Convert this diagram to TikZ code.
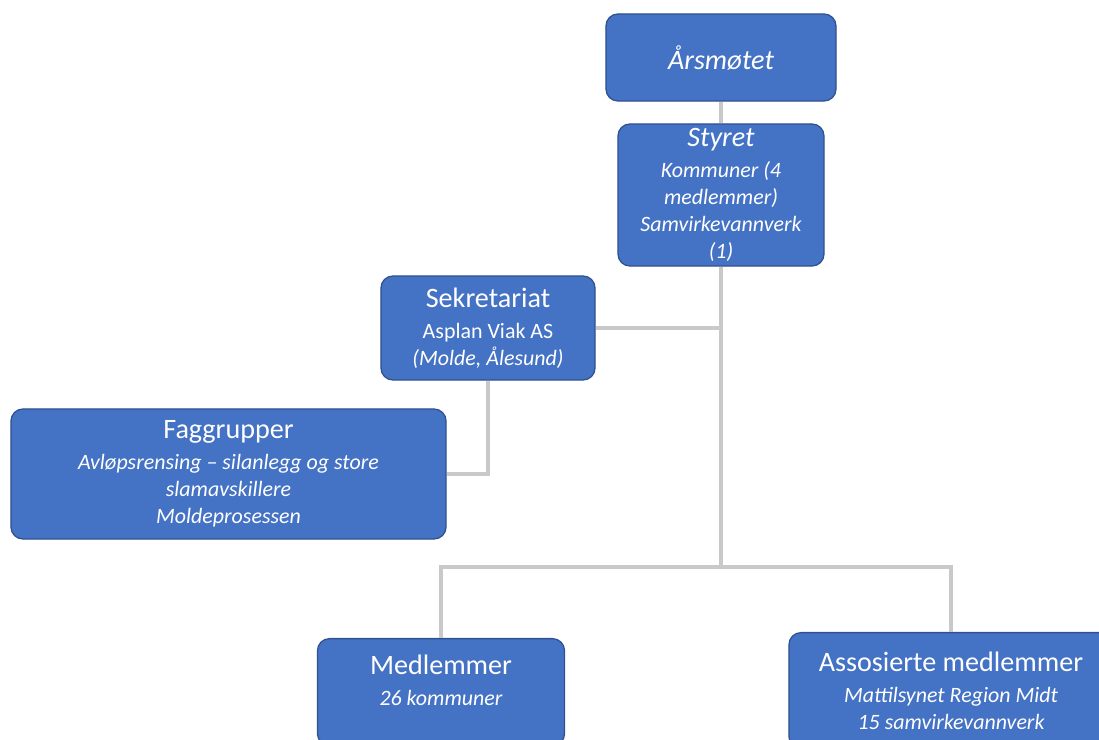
\documentclass[tikz,border=0pt]{standalone}
\usepackage{fontspec}
\setmainfont{Carlito}
\usepackage{tikz}

\definecolor{boxblue}{HTML}{4472C4}
\definecolor{boxedge}{HTML}{2F528F}
\definecolor{linkgray}{HTML}{C9C9C9}

\newcommand{\headline}[1]{{\fontsize{20}{24}\selectfont #1}}

\begin{document}
\begin{tikzpicture}[
            x = 0.025cm, % one unit = one pixel of the sketch
            y = -0.025cm,
            link/.style = {draw = linkgray, line width = 2.8pt}
        ]

        \tikzstyle{unit}=[
            draw = boxedge,
            line width = 0.9pt,
            fill = boxblue,
            text = white,
            rounded corners = 0.3cm,
            align = center,
            inner sep = 2pt,
            font = \fontsize{15.6}{19.2}\selectfont
        ]

        \clip (0,0) rectangle (1099,740);

        \node[unit, minimum width=5.75cm, minimum height=2.175cm] (ars) at (721,57.5)
            {\headline{\itshape Årsmøtet}};
        \node[unit, minimum width=5.15cm, minimum height=3.55cm] (styret) at (721,195)
            {\headline{\itshape Styret}\\[3pt] \itshape Kommuner (4\\ \itshape medlemmer)\\ \itshape Samvirkevannverk\\ \itshape (1)};
        \node[unit, minimum width=5.35cm, minimum height=2.6cm] (sekr) at (488,328)
            {\headline{Sekretariat}\\[3pt] Asplan Viak AS\\ \itshape (Molde, Ålesund)};
        \node[unit, minimum width=10.875cm, minimum height=3.25cm] (fag) at (228.5,474)
            {\headline{Faggrupper}\\[3pt] \itshape Avløpsrensing -- silanlegg og store\\ \itshape slamavskillere\\ \itshape Moldeprosessen};
        \node[unit, minimum width=6.175cm, minimum height=2.675cm, anchor=north] (medl) at (441,638)
            {\headline{Medlemmer}\\[3pt] \itshape 26 kommuner\\[-2pt]\mbox{}};
        \node[unit, minimum width=8.1cm, minimum height=2.9cm, anchor=north] (asso) at (951,632)
            {\headline{Assosierte medlemmer}\\[3pt] \itshape Mattilsynet Region Midt\\ \itshape 15 samvirkevannverk};

        \coordinate (split) at (721,567);

        \path[link] (ars.south) -- (styret.north);
        \path[link] (styret.south) -- (split);
        \path[link] (medl.north) |- (split) -| (asso.north);
        \path[link] (sekr.east) -- (sekr.east -| styret.south);
        \path[link] (sekr.south) |- (fag.east);

  \end{tikzpicture}
\end{document}
